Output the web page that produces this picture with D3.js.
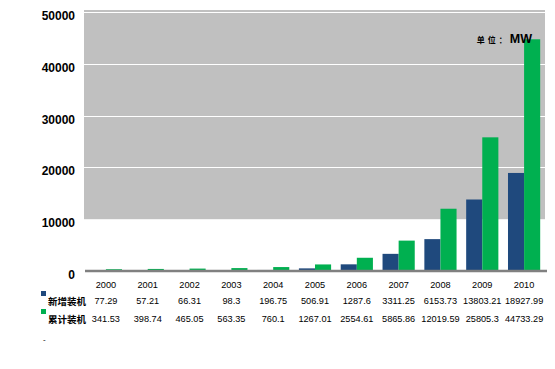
<!DOCTYPE html>
<html><head><meta charset="utf-8">
<script src="https://cdn.jsdelivr.net/npm/d3@7"></script>
<style>body{margin:0;background:#fff}svg{display:block}</style>
</head><body>
<script>
const years = ["2000","2001","2002","2003","2004","2005","2006","2007","2008","2009","2010"];
const newInstalled = [77.29,57.21,66.31,98.3,196.75,506.91,1287.6,3311.25,6153.73,13803.21,18927.99];
const cumInstalled = [341.53,398.74,465.05,563.35,760.1,1267.01,2554.61,5865.86,12019.59,25805.3,44733.29];
const newLabels = ["77.29","57.21","66.31","98.3","196.75","506.91","1287.6","3311.25","6153.73","13803.21","18927.99"];
const cumLabels = ["341.53","398.74","465.05","563.35","760.1","1267.01","2554.61","5865.86","12019.59","25805.3","44733.29"];
const seriesNames = ["新增装机","累计装机"];
const colors = ["#1F497D","#00B050"];
const yTicks = [0,10000,20000,30000,40000,50000];

const W=555,H=369;
const svg=d3.select("body").append("svg").attr("width",W).attr("height",H);
const x=d3.scaleBand().domain(years).range([85,545]).paddingInner(0.23).paddingOuter(0.115);
const y=d3.scaleLinear().domain([0,50000]).range([271,12]);
const xs=d3.scaleBand().domain([0,1]).range([0,x.bandwidth()]);

svg.append("rect").attr("x",84).attr("y",y(50000)-2).attr("width",461).attr("height",y(10000)-y(50000)+2).attr("fill","#C0C0C0");
svg.append("g").selectAll("line").data(yTicks.filter(d=>d>=20000)).join("line")
 .attr("x1",84).attr("x2",545).attr("y1",d=>Math.round(y(d))+0.5).attr("y2",d=>Math.round(y(d))+0.5)
 .attr("stroke","#fff").attr("stroke-width",1);

svg.append("g").selectAll("text").data(yTicks).join("text")
 .attr("x",75).attr("y",d=>y(d)+8).attr("text-anchor","end")
 .attr("font-family","Liberation Sans, Arial, sans-serif").attr("font-weight","bold").attr("font-size",12)
 .text(d=>d);

const series=[newInstalled,cumInstalled];
series.forEach((vals,i)=>{
 svg.append("g").selectAll("rect").data(vals).join("rect")
  .attr("x",(d,j)=>x(years[j])+xs(i)).attr("width",xs.bandwidth())
  .attr("y",d=>y(d)).attr("height",d=>y(0)-y(d)).attr("fill",colors[i]);
});

svg.append("line").attr("x1",85).attr("x2",547).attr("y1",271).attr("y2",271).attr("stroke","#808080").attr("stroke-width",2.5);

const u=svg.append("text").attr("x",532).attr("y",43).attr("text-anchor","end").attr("font-family","Liberation Sans, Arial, sans-serif");
u.append("tspan").attr("font-size",8).attr("font-weight","bold").attr("letter-spacing",3).attr("font-family","Noto Sans CJK SC").text("单位：");
u.append("tspan").attr("font-size",12.5).attr("font-weight","bold").text("MW");

const ff="Liberation Sans, Arial, sans-serif";
svg.append("g").selectAll("text").data(years).join("text")
 .attr("x",d=>x(d)+x.bandwidth()/2).attr("y",288).attr("text-anchor","middle")
 .attr("font-family",ff).attr("font-size",9.2).text(d=>d);
[newLabels,cumLabels].forEach((labs,i)=>{
 const ry=i===0?304:322;
 svg.append("g").selectAll("text").data(labs).join("text")
  .attr("x",(d,j)=>x(years[j])+x.bandwidth()/2).attr("y",ry).attr("text-anchor","middle")
  .attr("font-family",ff).attr("font-size",9.2).text(d=>d);
 svg.append("rect").attr("x",41).attr("y",i===0?291:309).attr("width",5).attr("height",5).attr("fill",colors[i]);
 svg.append("text").attr("x",48).attr("y",ry+1).attr("font-family","Noto Sans CJK SC").attr("font-weight","bold").attr("font-size",9.5).text(seriesNames[i]);
});
svg.append("text").attr("x",43).attr("y",342).attr("font-family",ff).attr("font-size",8).text("-");
</script>
</body></html>
